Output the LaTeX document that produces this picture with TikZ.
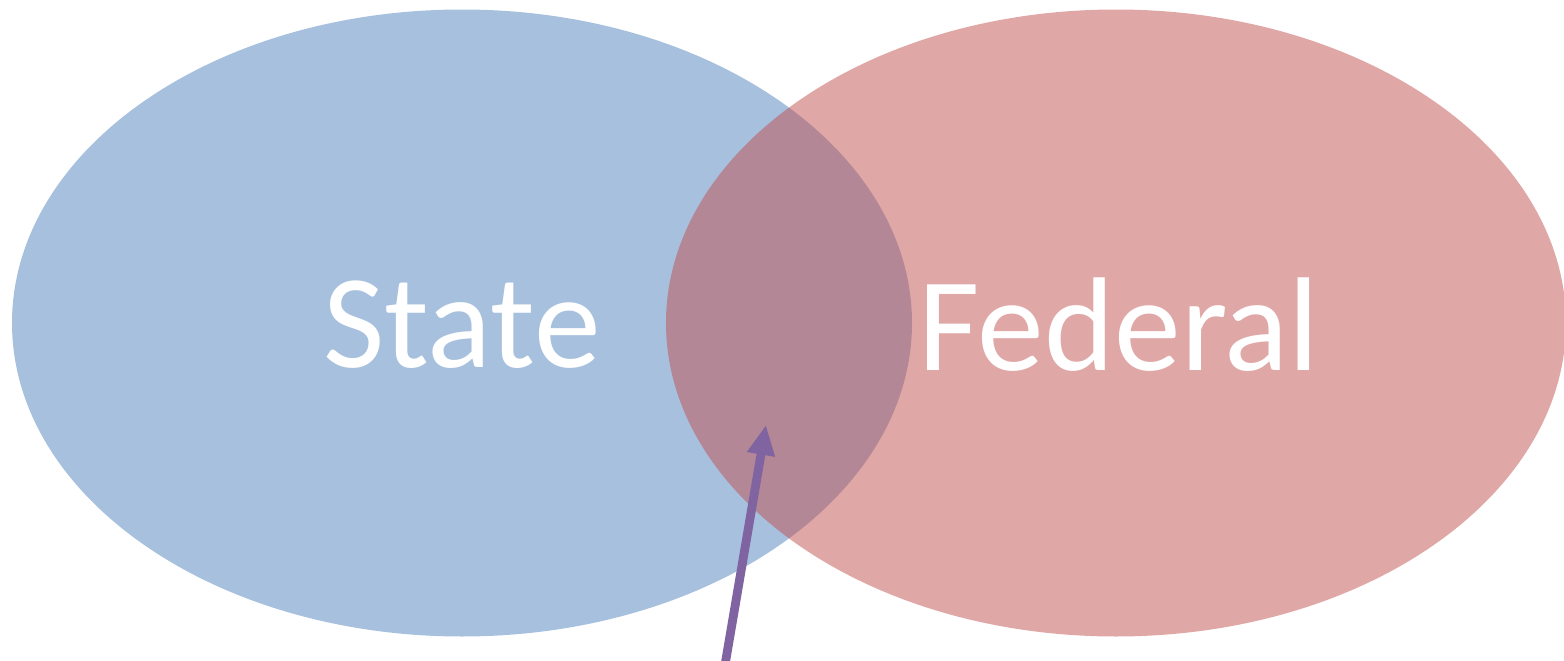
\documentclass[tikz,border=0pt]{standalone}
\usepackage{fontspec}
\setmainfont{Carlito}
\usetikzlibrary{arrows.meta}
\usetikzlibrary{positioning}
\definecolor{stateblue}{HTML}{4F81BD}
\definecolor{fedred}{HTML}{C0504D}
\definecolor{overlaparrow}{HTML}{8064A2}

\begin{document}
\begin{tikzpicture}[>={Triangle[width=15pt,length=17pt]}]
      \path[use as bounding box] (0,0) rectangle (31.28,-13.22);

      % circles
      \fill[stateblue,opacity=0.5] (9.24,-6.46) ellipse [x radius=9.0cm, y radius=6.27cm];
      \fill[fedred,opacity=0.5]    (22.32,-6.46) ellipse [x radius=9.0cm, y radius=6.27cm];

      \node[anchor=base,text=white,font=\fontsize{76}{84}\selectfont] (state) at (9.24,-7.34) {State};
      \node[anchor=base,text=white,font=\fontsize{76}{84}\selectfont] (federal) at (22.38,-7.40) {Federal};

      % arrow into the overlap
      \coordinate (tail) at (14.50,-13.30);
      \coordinate (tip) at (15.32,-8.50);
      \draw[->,overlaparrow,line width=5pt] (tail) -- (tip);
    \end{tikzpicture}
\end{document}
